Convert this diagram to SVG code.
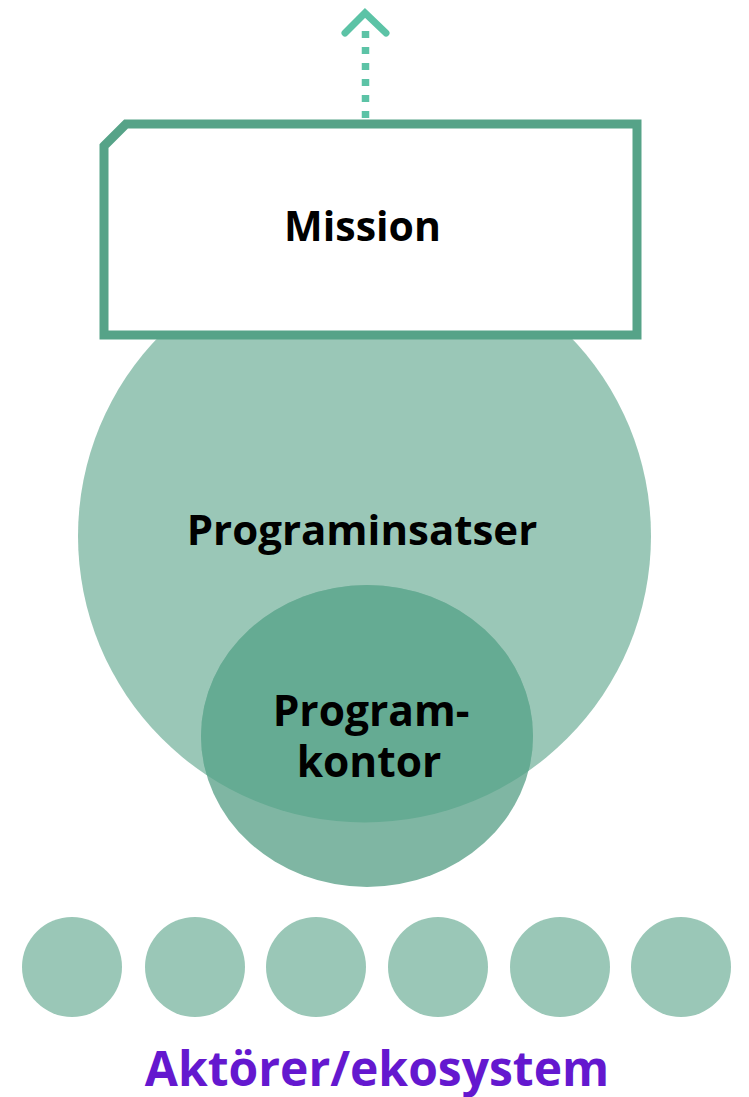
<svg xmlns="http://www.w3.org/2000/svg" width="749" height="1097" viewBox="0 0 749 1097">
<style>
.lbl{font-family:"Open Sans","Noto Sans","Liberation Sans",sans-serif;font-weight:700;text-anchor:middle;fill:#000}
.actor{fill:#9ac7b7}
</style>
<defs>
<clipPath id="bigclip"><circle cx="364.5" cy="536" r="286.5"/></clipPath>
</defs>
<rect width="749" height="1097" fill="#fff"/>
<g id="programinsatser">
<circle cx="364.5" cy="536" r="286.5" fill="#9ac7b7"/>
<text class="lbl" x="362" y="545" font-size="42">Programinsatser</text>
</g>
<g id="programkontor">
<ellipse cx="367" cy="736" rx="166" ry="151" fill="#7fb6a3"/>
<ellipse cx="367" cy="736" rx="166" ry="151" fill="#65ab93" clip-path="url(#bigclip)"/>
<text class="lbl" x="371" y="726" font-size="42.5">Program-</text>
<text class="lbl" x="369" y="777" font-size="42.5">kontor</text>
</g>
<g id="mission">
<path d="M104,146 L126,124 L637,124 L637,335 L104,335 Z" fill="#fff" stroke="#56a388" stroke-width="9"/>
<text class="lbl" x="362.5" y="241" font-size="41">Mission</text>
</g>
<g id="connectors">
<line x1="365.5" y1="118" x2="365.5" y2="28" stroke="#5cc3a6" stroke-width="7.5" stroke-dasharray="7 9"/>
<polyline points="345,33 365,13 386,33" fill="none" stroke="#5cc3a6" stroke-width="7" stroke-linecap="round" stroke-linejoin="miter"/>
</g>
<g id="actors">
<circle class="actor" cx="72" cy="967" r="50"/>
<circle class="actor" cx="195" cy="967" r="50"/>
<circle class="actor" cx="316" cy="967" r="50"/>
<circle class="actor" cx="438" cy="967" r="50"/>
<circle class="actor" cx="560" cy="967" r="50"/>
<circle class="actor" cx="681" cy="967" r="50"/>
<text class="lbl" x="377" y="1086" font-size="48" style="fill:#6418cf">Aktörer/ekosystem</text>
</g>
</svg>
